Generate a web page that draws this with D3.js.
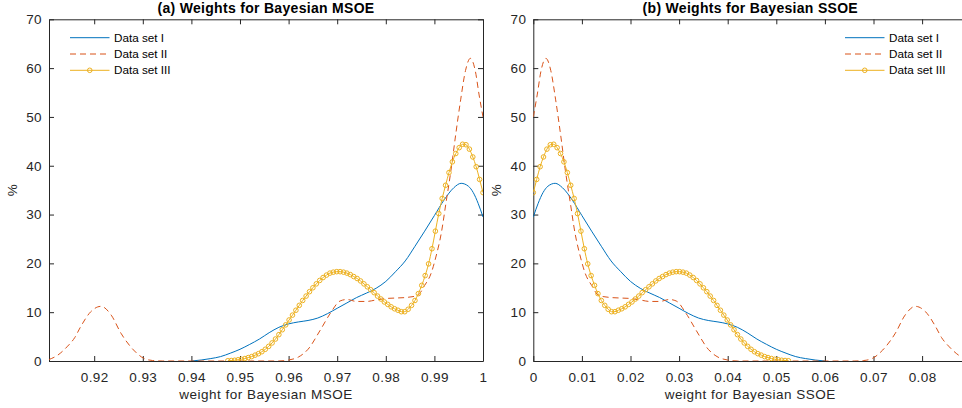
<!DOCTYPE html>
<html lang="en">
<head>
<meta charset="utf-8">
<title>Bayesian weights</title>
<script src="https://cdn.jsdelivr.net/npm/d3@7"></script>
<style>
body { margin: 0; background: #fff; }
svg { font-family: "Liberation Sans", Arial, sans-serif; }
</style>
</head>
<body>
<script>
var width = 962, height = 408;

// ---- data (density in %) ----
// Data set I, panel (a): weight for MSOE
var msoeI = [0.940,0.942,0.944,0.946,0.948,0.950,0.952,0.954,0.956,0.958,0.960,0.962,0.964,0.966,0.968,0.970,0.972,0.974,0.976,0.978,0.980,0.982,0.984,0.986,0.988,0.990,0.992,0.994,0.9955,0.997,0.998,0.999,1.000];
// panel (b): weight for SSOE (same points, 1 - w)
var ssoeI = [0.060,0.058,0.056,0.054,0.052,0.050,0.048,0.046,0.044,0.042,0.040,0.038,0.036,0.034,0.032,0.030,0.028,0.026,0.024,0.022,0.020,0.018,0.016,0.014,0.012,0.010,0.008,0.006,0.0045,0.003,0.002,0.001,0.000];
var densI = [0,0.2,0.5,0.9,1.6,2.4,3.4,4.5,5.8,6.9,7.6,8.0,8.3,8.8,9.7,10.8,11.9,13.0,13.9,14.9,16.3,18.3,20.5,23.5,26.6,29.8,33.0,35.5,36.4,35.8,34.5,32.3,29.5];

// Data set II
var msoeII = [0.9107,0.9125,0.9144,0.916,0.9172,0.9193,0.9214,0.9235,0.9255,0.9281,0.9302,0.932,0.934,0.958,0.960,0.962,0.964,0.9665,0.9686,0.9706,0.972,0.974,0.976,0.978,0.980,0.982,0.984,0.9865,0.988,0.9893,0.9903,0.9914,0.9924,0.9934,0.9944,0.9954,0.9964,0.9974,0.9984,0.9992,1.0];
var ssoeII = [0.0893,0.0875,0.0856,0.084,0.0828,0.0807,0.0786,0.0765,0.0745,0.0719,0.0698,0.068,0.066,0.042,0.040,0.038,0.036,0.0335,0.0314,0.0294,0.028,0.026,0.024,0.022,0.020,0.018,0.016,0.0135,0.012,0.0107,0.0097,0.0086,0.0076,0.0066,0.0056,0.0046,0.0036,0.0026,0.0016,0.0008,0.0];
var densII = [0.3,1.2,2.9,4.8,7.0,10.1,11.2,9.4,5.7,2.25,0.55,0.1,0,0,0.2,0.8,2.4,6.3,9.8,12.3,12.6,12.2,12.2,12.5,12.8,12.9,13.0,13.4,15.5,17.9,21.3,26.1,32.5,39.0,46.5,53.5,59.5,62.0,59.5,54.5,50.0];

// Data set III (evaluated on a fine grid, one marker per point)
var msoeIII = [0.9475,0.9482,0.9489,0.9496,0.9503,0.9510,0.9517,0.9524,0.9531,0.9538,0.9545,0.9552,0.9559,0.9566,0.9573,0.9580,0.9587,0.9594,0.9601,0.9608,0.9615,0.9622,0.9629,0.9636,0.9643,0.9650,0.9657,0.9664,0.9671,0.9678,0.9685,0.9692,0.9699,0.9706,0.9713,0.9720,0.9727,0.9734,0.9741,0.9748,0.9755,0.9762,0.9769,0.9776,0.9783,0.9790,0.9797,0.9804,0.9811,0.9818,0.9825,0.9832,0.9839,0.9846,0.9853,0.9860,0.9867,0.9874,0.9881,0.9888,0.9895,0.9902,0.9909,0.9916,0.9923,0.9930,0.9937,0.9944,0.9951,0.9958,0.9965,0.9972,0.9979,0.9986,0.9993,1.0000];
var ssoeIII = [0.0525,0.0518,0.0511,0.0504,0.0497,0.0490,0.0483,0.0476,0.0469,0.0462,0.0455,0.0448,0.0441,0.0434,0.0427,0.0420,0.0413,0.0406,0.0399,0.0392,0.0385,0.0378,0.0371,0.0364,0.0357,0.0350,0.0343,0.0336,0.0329,0.0322,0.0315,0.0308,0.0301,0.0294,0.0287,0.0280,0.0273,0.0266,0.0259,0.0252,0.0245,0.0238,0.0231,0.0224,0.0217,0.0210,0.0203,0.0196,0.0189,0.0182,0.0175,0.0168,0.0161,0.0154,0.0147,0.0140,0.0133,0.0126,0.0119,0.0112,0.0105,0.0098,0.0091,0.0084,0.0077,0.0070,0.0063,0.0056,0.0049,0.0042,0.0035,0.0028,0.0021,0.0014,0.0007,0.0000];
var densIII = [0.05,0.1,0.15,0.25,0.35,0.5,0.7,0.9,1.2,1.5,1.9,2.4,3.0,3.7,4.5,5.4,6.4,7.4,8.4,9.4,10.4,11.4,12.4,13.3,14.2,15.0,15.8,16.5,17.1,17.6,18.0,18.2,18.3,18.3,18.2,18.0,17.7,17.3,16.9,16.4,15.8,15.2,14.6,14.0,13.3,12.7,12.1,11.6,11.1,10.7,10.4,10.1,10.1,10.6,11.4,12.4,13.8,15.5,17.5,19.9,23.0,26.6,30.2,33.3,36.0,38.6,40.8,42.5,43.7,44.4,44.3,43.4,41.8,39.8,37.2,34.5];

var seriesNames = ["Data set I", "Data set II", "Data set III"];
var msoeTicks = [0.92,0.93,0.94,0.95,0.96,0.97,0.98,0.99,1];
var ssoeTicks = [0,0.01,0.02,0.03,0.04,0.05,0.06,0.07,0.08];
var yTicks = [0,10,20,30,40,50,60,70];

var colors = ["#0072BD", "#D95319", "#EDB120"];
var axisColor = "#262626";

var panels = [
    {title: "(a) Weights for Bayesian MSOE", xlabel: "weight for Bayesian MSOE",
     left: 49, domain: [0.9107, 1], ticks: msoeTicks,
     xs: [msoeI, msoeII, msoeIII], legendX: 70},
    {title: "(b) Weights for Bayesian SSOE", xlabel: "weight for Bayesian SSOE",
     left: 533.3, domain: [0, 0.0893], ticks: ssoeTicks,
     xs: [ssoeI, ssoeII, ssoeIII], legendX: 845}
];
var dens = [densI, densII, densIII];

var plotW = 434, plotTop = 19.3, plotBottom = 361;

var svg = d3.select("body").append("svg")
    .attr("width", width).attr("height", height);

var y = d3.scaleLinear().domain([0, 70]).range([plotBottom, plotTop]);

panels.forEach(function(p, pi) {
    var x = d3.scaleLinear().domain(p.domain).range([p.left, p.left + plotW]);

    svg.append("clipPath").attr("id", "clip" + pi)
        .append("rect").attr("x", p.left).attr("y", plotTop)
        .attr("width", plotW).attr("height", plotBottom - plotTop);

    var g = svg.append("g");

    // axes (box with inward ticks)
    var bottomAxis = d3.axisBottom(x).tickValues(p.ticks).tickSize(-5).tickSizeOuter(0)
        .tickPadding(11).tickFormat(function(d) { return String(d); });
    var topAxis = d3.axisTop(x).tickValues(p.ticks).tickSize(-5).tickSizeOuter(0).tickFormat("");
    var leftAxis = d3.axisLeft(y).tickValues(yTicks).tickSize(-5).tickSizeOuter(0).tickPadding(7);
    var rightAxis = d3.axisRight(y).tickValues(yTicks).tickSize(-5).tickSizeOuter(0).tickFormat("");

    g.append("g").attr("transform", "translate(0," + plotBottom + ")").call(bottomAxis);
    g.append("g").attr("transform", "translate(0," + plotTop + ")").call(topAxis);
    g.append("g").attr("transform", "translate(" + p.left + ",0)").call(leftAxis);
    g.append("g").attr("transform", "translate(" + (p.left + plotW) + ",0)").call(rightAxis);

    g.selectAll(".domain, .tick line").attr("stroke", axisColor).attr("stroke-width", 1);
    g.selectAll(".tick text").attr("fill", axisColor)
        .style("font-size", "13.5px").style("letter-spacing", "0.4px");

    // curves
    var line = d3.line()
        .x(function(d) { return x(d[0]); })
        .y(function(d) { return y(d[1]); })
        .curve(d3.curveMonotoneX);

    var plot = svg.append("g").attr("clip-path", "url(#clip" + pi + ")");

    p.xs.forEach(function(xv, si) {
        var pts = xv.map(function(v, i) { return [v, dens[si][i]]; })
            .sort(function(a, b) { return a[0] - b[0]; });
        var path = plot.append("path").datum(pts)
            .attr("fill", "none").attr("stroke", colors[si])
            .attr("stroke-width", 1).attr("d", line);
        if (si == 1) path.attr("stroke-dasharray", "6,4");
        if (si == 2) {
            plot.selectAll(null).data(pts).enter().append("circle")
                .attr("cx", function(d) { return x(d[0]); })
                .attr("cy", function(d) { return y(d[1]); })
                .attr("r", 2.3)
                .attr("fill", "none").attr("stroke", colors[si]).attr("stroke-width", 1);
        }
    });

    // labels
    svg.append("text").attr("x", p.left + plotW / 2).attr("y", 13)
        .attr("text-anchor", "middle").attr("fill", "#000")
        .style("font-size", "14px").style("font-weight", "bold").style("letter-spacing", "0.3px")
        .text(p.title);
    svg.append("text").attr("x", p.left + plotW / 2).attr("y", 399)
        .attr("text-anchor", "middle").attr("fill", axisColor)
        .style("font-size", "13.5px").style("letter-spacing", "0.5px")
        .text(p.xlabel);
    svg.append("text")
        .attr("transform", "translate(" + (p.left - 32) + "," + ((plotTop + plotBottom) / 2) + ") rotate(-90)")
        .attr("text-anchor", "middle").attr("fill", axisColor)
        .style("font-size", "13.5px")
        .text("%");

    // legend
    var leg = svg.append("g");
    seriesNames.forEach(function(name, si) {
        var ly = 37.7 + si * 16.3;
        var l = leg.append("line")
            .attr("x1", p.legendX).attr("x2", p.legendX + 39.5)
            .attr("y1", ly).attr("y2", ly)
            .attr("stroke", colors[si]).attr("stroke-width", 1);
        if (si == 1) l.attr("stroke-dasharray", "6,4");
        if (si == 2) {
            leg.append("circle").attr("cx", p.legendX + 19.75).attr("cy", ly).attr("r", 2.3)
                .attr("fill", "none").attr("stroke", colors[si]).attr("stroke-width", 1);
        }
        leg.append("text").attr("x", p.legendX + 44).attr("y", ly)
            .attr("dy", "0.35em").attr("fill", "#000")
            .style("font-size", "11.7px")
            .text(name);
    });
});
</script>
</body>
</html>
